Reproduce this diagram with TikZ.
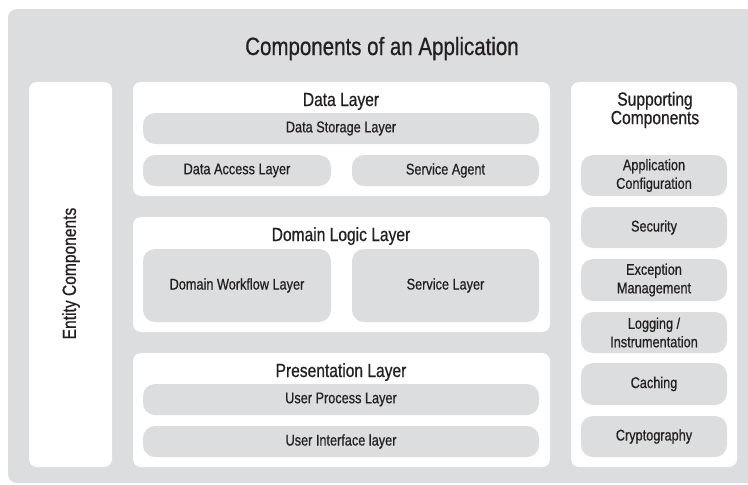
\documentclass[tikz,border=0pt]{standalone}
\usepackage{fontspec}
\setmainfont{Liberation Sans}[FakeStretch=0.82,FakeBold=0.6]

\definecolor{panelgray}{HTML}{DCDDDE}
\definecolor{inkblack}{HTML}{231F20}

\tikzset{
  panel/.style={fill=white, rounded corners=8pt, inner sep=0pt},
  part/.style={fill=panelgray, rounded corners=12pt, inner sep=0pt, align=center,
    text=inkblack, font=\fontsize{15.5}{18.5}\selectfont},
  heading/.style={text=inkblack, align=center, inner sep=0pt,
    font=\fontsize{19}{18.5}\selectfont}
}

\begin{document}
\begin{tikzpicture}[x=1pt,y=-1pt]
      \useasboundingbox (0,0) rectangle (748,485) ;
      \clip (0,0) rectangle (748,485) ;
      \fill[panelgray, rounded corners=9pt] (8,9) rectangle (770,483) ;
      \node[heading, anchor=base, font=\fontsize{25}{27}\selectfont] (app) at (382,55) {Components of an Application} ;
      % left and right columns
      \node[panel, minimum width=83pt, minimum height=385pt] (entity) at (70.5,274.5) {} ;
      \node[heading, rotate=90] (entitytitle) at (71,273.5) {Entity Components} ;
      \node[panel, minimum width=166pt, minimum height=385pt] (support) at (654,274.5) {} ;
      \node[heading] (supporttitle) at (655,110) {Supporting\\Components} ;
      % data layer
      \node[panel, minimum width=417pt, minimum height=114pt] (data) at (341.5,139) {} ;
      \node[heading, anchor=base] (datatitle) at (341,106) {Data Layer} ;
      \node[part, minimum width=396pt, minimum height=31pt] (storage) at (341,128.5) {Data Storage Layer} ;
      \node[part, minimum width=188pt, minimum height=31pt] (access) at (237,170.5) {Data Access Layer} ;
      \node[part, minimum width=187pt, minimum height=31pt] (agent) at (445.5,170.5) {Service Agent} ;
      % domain logic layer
      \node[panel, minimum width=417pt, minimum height=115pt] (domain) at (341.5,274.5) {} ;
      \node[heading, anchor=base] (domaintitle) at (341,241) {Domain Logic Layer} ;
      \node[part, minimum width=188pt, minimum height=73pt] (workflow) at (237,285.5) {Domain Workflow Layer} ;
      \node[part, minimum width=187pt, minimum height=73pt] (servicelayer) at (445.5,285.5) {Service Layer} ;
      % presentation layer
      \node[panel, minimum width=417pt, minimum height=114pt] (present) at (341.5,410) {} ;
      \node[heading, anchor=base] (presenttitle) at (341,377) {Presentation Layer} ;
      \node[part, minimum width=396pt, minimum height=31pt] (process) at (341,399.5) {User Process Layer} ;
      \node[part, minimum width=396pt, minimum height=31pt] (interface) at (341,441.5) {User Interface layer} ;
      % supporting components
      \node[part, minimum width=146pt, minimum height=41pt] (config) at (654,175.5) {Application\\Configuration} ;
      \node[part, minimum width=146pt, minimum height=41pt] (security) at (654,227.5) {Security} ;
      \node[part, minimum width=146pt, minimum height=42pt] (exception) at (654,280) {Exception\\Management} ;
      \node[part, minimum width=146pt, minimum height=41pt] (logging) at (654,332.5) {Logging /\\Instrumentation} ;
      \node[part, minimum width=146pt, minimum height=42pt] (caching) at (654,384) {Caching} ;
      \node[part, minimum width=146pt, minimum height=41pt] (crypto) at (654,436.5) {Cryptography} ;
\end{tikzpicture}
\end{document}
